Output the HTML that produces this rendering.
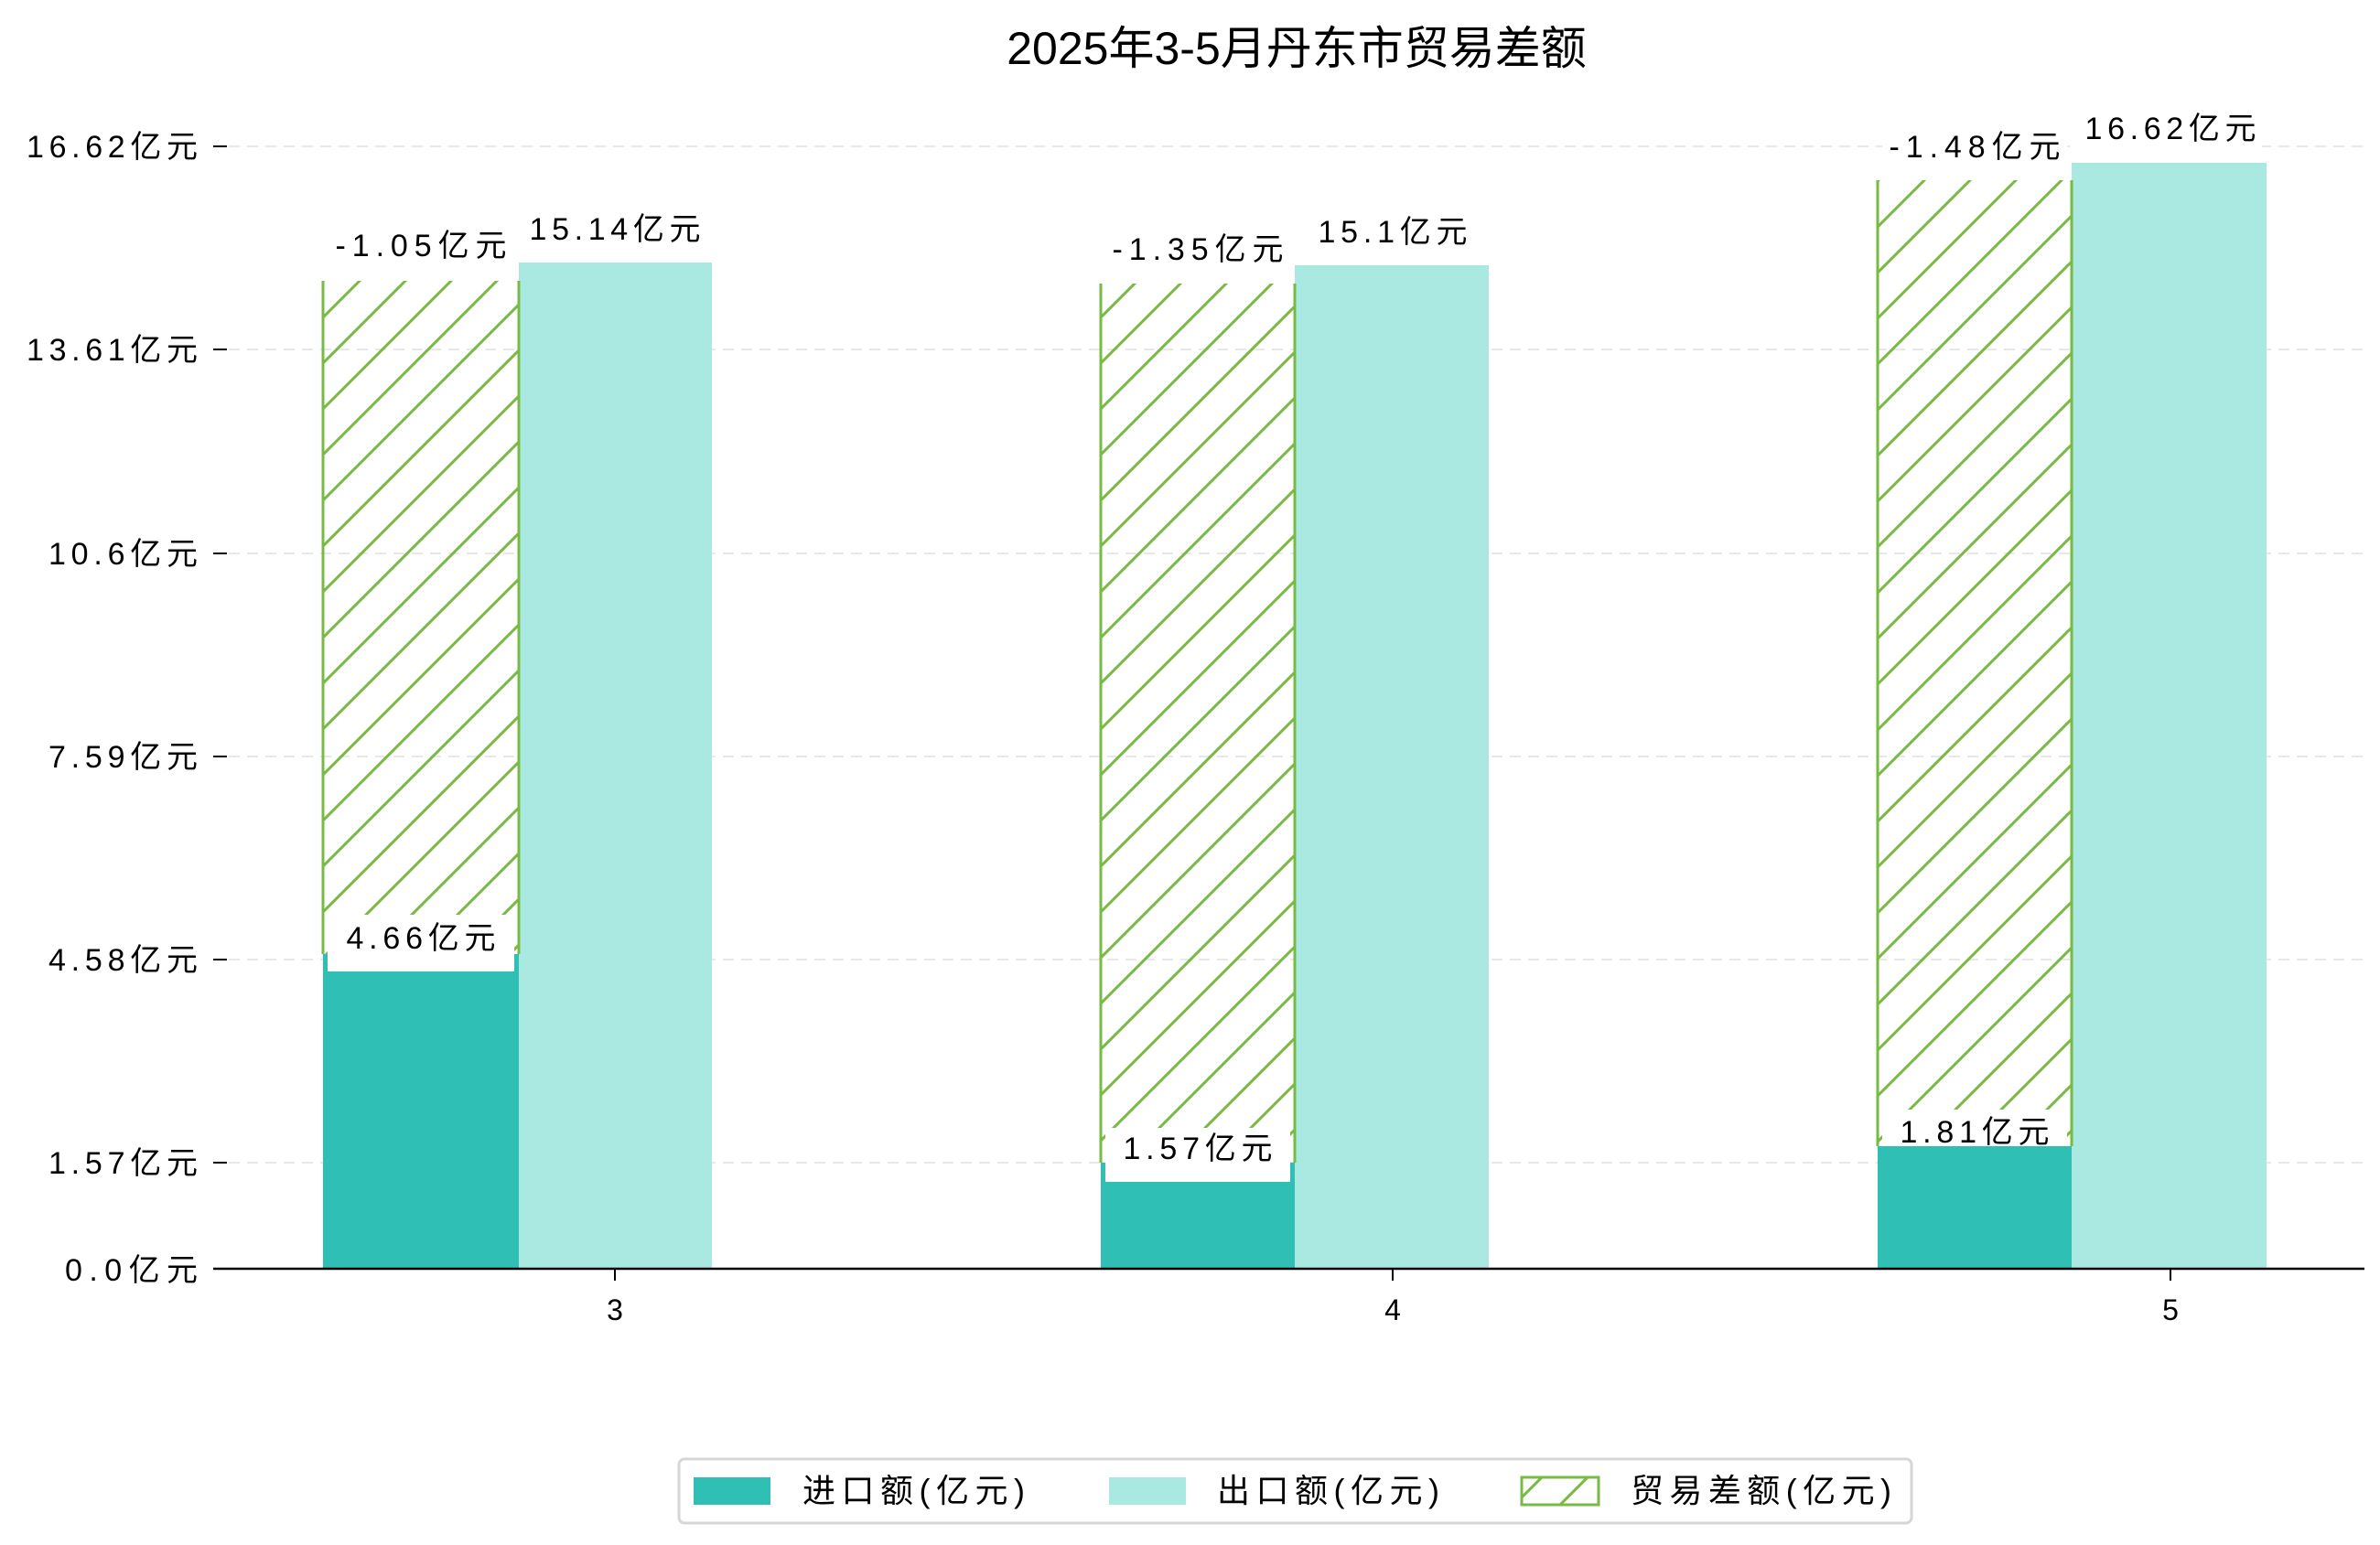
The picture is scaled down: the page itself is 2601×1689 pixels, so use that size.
<!DOCTYPE html><html><head><meta charset="utf-8"><style>body{margin:0;background:#fff}svg{display:block}text{font-family:"Liberation Sans","Noto Sans CJK SC",sans-serif;fill:#000}</style></head><body>
<svg width="2601" height="1689" xmlns="http://www.w3.org/2000/svg">
<defs><pattern id="h" width="50" height="50" patternUnits="userSpaceOnUse"><path d="M-5,55 L55,-5 M-5,5 L5,-5 M45,55 L55,45" stroke="#77bb44" stroke-width="3"/></pattern></defs>
<text x="1417" y="70" font-size="50" text-anchor="middle">2025年3-5月丹东市贸易差额</text>
<g stroke="#e8e8e8" stroke-width="2" stroke-dasharray="12,8">
<line x1="250" x2="2584" y1="160" y2="160"/><line x1="250" x2="2584" y1="382" y2="382"/><line x1="250" x2="2584" y1="605" y2="605"/><line x1="250" x2="2584" y1="827" y2="827"/><line x1="250" x2="2584" y1="1049" y2="1049"/><line x1="250" x2="2584" y1="1271" y2="1271"/></g>
<g stroke="#000" stroke-width="2"><line x1="233" x2="248" y1="160" y2="160"/><line x1="233" x2="248" y1="382" y2="382"/><line x1="233" x2="248" y1="605" y2="605"/><line x1="233" x2="248" y1="827" y2="827"/><line x1="233" x2="248" y1="1049" y2="1049"/><line x1="233" x2="248" y1="1271" y2="1271"/>
<line x1="672" x2="672" y1="1387" y2="1400"/><line x1="1522" x2="1522" y1="1387" y2="1400"/><line x1="2372" x2="2372" y1="1387" y2="1400"/></g>
<g font-size="34" text-anchor="end">
<text x="216" y="172" textLength="187">16.62亿元</text><text x="216" y="394" textLength="187">13.61亿元</text><text x="216" y="617" textLength="163">10.6亿元</text><text x="216" y="839" textLength="163">7.59亿元</text><text x="216" y="1061" textLength="163">4.58亿元</text><text x="216" y="1283" textLength="163">1.57亿元</text><text x="216" y="1400" textLength="145">0.0亿元</text></g>
<g font-size="32" text-anchor="middle"><text x="672" y="1443">3</text><text x="1522" y="1443">4</text><text x="2372" y="1443">5</text></g>
<rect x="353" y="1043" width="214" height="344" fill="#30bfb4"/><rect x="567" y="287" width="211" height="1100" fill="#aae8e2"/>
<rect x="1203" y="1271" width="212" height="116" fill="#30bfb4"/><rect x="1415" y="290" width="212" height="1097" fill="#aae8e2"/>
<rect x="2052" y="1253" width="212" height="134" fill="#30bfb4"/><rect x="2264" y="178" width="213" height="1209" fill="#aae8e2"/>
<rect x="353" y="307" width="214" height="736" fill="url(#h)"/><path d="M353,307V1043M567,307V1043" stroke="#77bb44" stroke-width="3"/>
<rect x="1203" y="310" width="212" height="961" fill="url(#h)"/><path d="M1203,310V1271M1415,310V1271" stroke="#77bb44" stroke-width="3"/>
<rect x="2052" y="197" width="212" height="1056" fill="url(#h)"/><path d="M2052,197V1253M2264,197V1253" stroke="#77bb44" stroke-width="3"/>
<line x1="233" x2="2584" y1="1387" y2="1387" stroke="#000" stroke-width="2.5"/>
<g fill="#fff"><rect x="358" y="244" width="204" height="62"/><rect x="570" y="226" width="205" height="58"/><rect x="358" y="1000" width="204" height="62"/>
<rect x="1208" y="248" width="202" height="60"/><rect x="1420" y="230" width="202" height="58"/><rect x="1208" y="1233" width="202" height="59"/>
<rect x="2057" y="136" width="202" height="60"/><rect x="2268" y="116" width="204" height="60"/><rect x="2057" y="1213" width="202" height="40"/></g>
<g font-size="34" text-anchor="middle">
<text x="460" y="280" textLength="187">-1.05亿元</text><text x="672" y="262" textLength="187">15.14亿元</text><text x="460" y="1037" textLength="163">4.66亿元</text>
<text x="1309" y="284" textLength="187">-1.35亿元</text><text x="1522" y="265" textLength="163">15.1亿元</text><text x="1309" y="1267" textLength="163">1.57亿元</text>
<text x="2158" y="172" textLength="187">-1.48亿元</text><text x="2372" y="152" textLength="187">16.62亿元</text><text x="2158" y="1249" textLength="163">1.81亿元</text></g>
<rect x="742" y="1595" width="1347" height="70" rx="6" fill="#fff" stroke="#d6d6d6" stroke-width="3"/>
<rect x="758" y="1615" width="84" height="30" fill="#30bfb4"/><rect x="1212" y="1615" width="84" height="30" fill="#aae8e2"/>
<rect x="1663" y="1615" width="84" height="30" fill="url(#h)" stroke="#77bb44" stroke-width="3"/>
<g font-size="36"><text x="877" y="1642" textLength="243">进口额(亿元)</text><text x="1330" y="1642" textLength="243">出口额(亿元)</text><text x="1782" y="1642" textLength="285">贸易差额(亿元)</text></g>
</svg></body></html>
